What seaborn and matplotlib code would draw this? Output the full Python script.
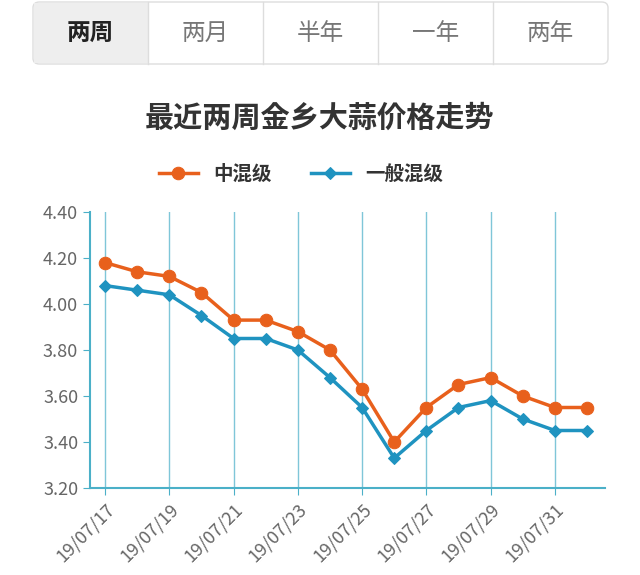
import matplotlib
matplotlib.use("Agg")
import matplotlib.pyplot as plt
from matplotlib import font_manager as fm
from matplotlib.patches import FancyBboxPatch, Rectangle
import seaborn as sns
import pandas as pd
import os

cands = [f for f in fm.findSystemFonts() if "cjk" in f.lower()]
fam = None
for f in sorted(cands, key=lambda p: ("SC" not in p, "Bold" in p)):
    try:
        fm.fontManager.addfont(f)
        n = fm.FontProperties(fname=f).get_name()
        if fam is None:
            fam = n
    except Exception:
        pass
plt.rcParams["font.family"] = [fam or "Noto Sans CJK SC", "DejaVu Sans"]

dates = ["19/07/17","19/07/18","19/07/19","19/07/20","19/07/21","19/07/22","19/07/23","19/07/24",
         "19/07/25","19/07/26","19/07/27","19/07/28","19/07/29","19/07/30","19/07/31","19/08/01"]
mixed = [4.18,4.14,4.12,4.05,3.93,3.93,3.88,3.80,3.63,3.40,3.55,3.65,3.68,3.60,3.55,3.55]
general = [4.08,4.06,4.04,3.95,3.85,3.85,3.80,3.68,3.55,3.33,3.45,3.55,3.58,3.50,3.45,3.45]
tabs = ["两周","两月","半年","一年","两年"]

W, H = 640, 575
fig = plt.figure(figsize=(6.4, 5.75), dpi=100)
fig.patch.set_facecolor("white")

fig.patches.append(FancyBboxPatch((33/W, 1-64/H), 575/W, 62/H, boxstyle="round,pad=0,rounding_size=0.01",
                                  transform=fig.transFigure, fc="white", ec="#dddddd", lw=1))
tw = 575/5
fig.patches.append(Rectangle((34/W, 1-63/H), (tw-1)/W, 60/H, transform=fig.transFigure, fc="#eeeeee", ec="none"))
for i, t in enumerate(tabs):
    if i > 0:
        fig.add_artist(plt.Line2D([(33+i*tw)/W]*2, [1-64/H, 1-2/H], transform=fig.transFigure, color="#dddddd", lw=1))
    fig.text((33+tw*(i+0.5))/W, 1-33/H, t, ha="center", va="center", fontsize=17,
             color="#222222" if i == 0 else "#777777", fontweight="bold" if i == 0 else "normal")

fig.text(0.5, 1-118/H, "最近两周金乡大蒜价格走势", ha="center", va="center", fontsize=21, fontweight="bold", color="#333333")

ax = fig.add_axes([90/W, 1-488/H, 515/W, 276/H])
df = pd.DataFrame({"x": list(range(len(dates)))*2, "y": mixed+general,
                   "s": ["中混级"]*len(dates)+["一般混级"]*len(dates)})
orange, blue = "#e8601c", "#1f93c0"
sns.lineplot(data=df[df.s=="中混级"], x="x", y="y", ax=ax, color=orange, lw=2.5, marker="o", markersize=9,
             markeredgecolor=orange, label="中混级")
sns.lineplot(data=df[df.s=="一般混级"], x="x", y="y", ax=ax, color=blue, lw=2.5, marker="D", markersize=6,
             markeredgecolor=blue, label="一般混级")
ax.set_xlim(-0.47, 15.56)
ax.set_ylim(3.2, 4.4)
ax.set_yticks([3.2,3.4,3.6,3.8,4.0,4.2,4.4])
ax.set_yticklabels([f"{v:.2f}" for v in ax.get_yticks()], fontsize=13, color="#666666")
ax.set_xticks(range(0, 16, 2))
ax.set_xticklabels(dates[0:16:2], rotation=45, ha="right", rotation_mode="anchor", fontsize=13, color="#666666")
ax.set_xlabel(""); ax.set_ylabel("")
ax.grid(axis="x", color="#7fc6d8", lw=1)
ax.set_axisbelow(True)
axc = "#4bb0c8"
for s in ["top","right"]:
    ax.spines[s].set_visible(False)
for s in ["left","bottom"]:
    ax.spines[s].set_color(axc); ax.spines[s].set_linewidth(1.5)
ax.tick_params(colors=axc, labelcolor="#666666", length=5)
leg = ax.legend(loc="lower center", bbox_to_anchor=(0.41, 1.04), ncol=2, frameon=False, fontsize=14,
                handlelength=2, columnspacing=2.0)
for t in leg.get_texts():
    t.set_fontweight("bold"); t.set_color("#333333")
fig.savefig("out.png", dpi=100)
